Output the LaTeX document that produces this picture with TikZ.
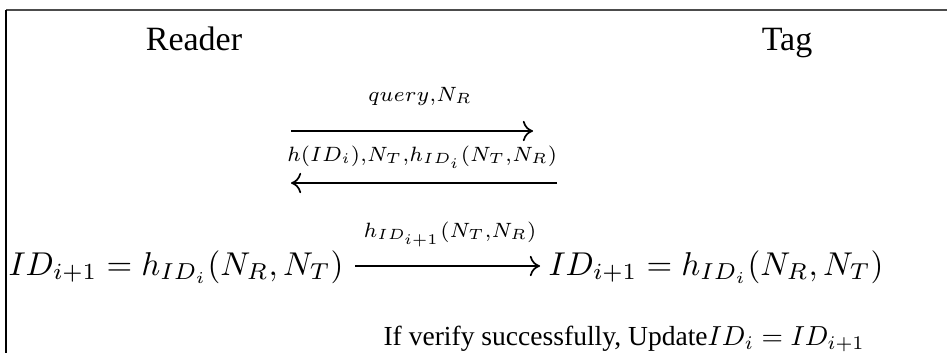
\documentclass[tikz,border=0pt]{standalone}
\usepackage{fontspec}
\setmainfont{Liberation Serif}
\usetikzlibrary{arrows.meta}
\begin{document}
\begin{tikzpicture}[x=0.294pt,y=-0.294pt,
  lbl/.style={inner sep=0pt,anchor=base,scale=0.87,transform shape},
  formula/.style={inner sep=0pt,anchor=base west,scale=0.97,transform shape},
  msg/.style={line width=0.5pt,-{To[length=3pt,width=6pt]}},
  frameline/.style={line width=0.6pt}]
\useasboundingbox (0,0) rectangle (947,353);
\draw[frameline,black!70] (6,10) -- (947,10);
\draw[frameline,black] (6,10) -- (6,353);
\node[inner sep=0pt,anchor=base] (reader) at (194,50) {Reader};
\node[inner sep=0pt,anchor=base] (tag) at (787,50) {Tag};
% message 1
\coordinate (m1s) at (291,131);
\coordinate (m1e) at (533,131);
\draw[msg] (m1s) -- (m1e);
\node[lbl] (l1) at (420,101) {$\scriptstyle query,N_R$};
% message 2
\coordinate (m2s) at (557,183);
\coordinate (m2e) at (291,183);
\draw[msg] (m2s) -- (m2e);
\node[lbl] (l2) at (422,161) {$\scriptstyle h(ID_i),N_T,h_{ID_i}(N_T,N_R)$};
% message 3
\node[formula] (left) at (8,275) {$ID_{i+1} = h_{ID_i}(N_R, N_T)$};
\node[formula] (right) at (548,275) {$ID_{i+1} = h_{ID_i}(N_R, N_T)$};
\coordinate (m3s) at (355,266);
\coordinate (m3e) at (540,266);
\draw[msg] (m3s) -- (m3e);
\node[lbl] (l3) at (450,237) {$\scriptstyle h_{ID_{i+1}}(N_T,N_R)$};
\node[inner sep=0pt,anchor=base west,scale=0.81,transform shape] (upd) at (383,345) {If verify successfully, Update$ID_i = ID_{i+1}$};
\end{tikzpicture}
\end{document}
